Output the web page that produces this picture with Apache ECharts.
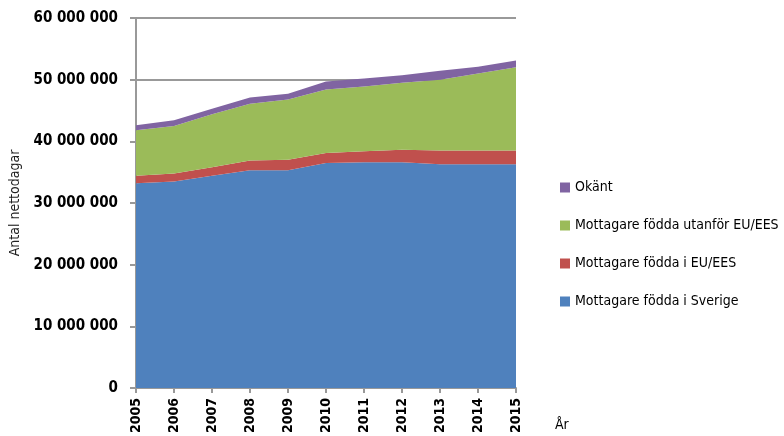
<!DOCTYPE html>
<html>
<head>
<meta charset="utf-8">
<script src="https://cdn.jsdelivr.net/npm/echarts@6/dist/echarts.min.js"></script>
<style>
  html, body { margin: 0; padding: 0; background: #fff; }
  #chart { width: 784px; height: 436px; }
</style>
</head>
<body>
<div id="chart"></div>
<script>
var years = ['2005', '2006', '2007', '2008', '2009', '2010', '2011', '2012', '2013', '2014', '2015'];
// antal nettodagar per grupp
var sverige = [33200000, 33500000, 34400000, 35300000, 35300000, 36500000, 36600000, 36600000, 36300000, 36300000, 36300000];
var euEes = [1200000, 1300000, 1400000, 1600000, 1700000, 1600000, 1800000, 2050000, 2200000, 2200000, 2200000];
var utanfor = [7400000, 7700000, 8600000, 9200000, 9800000, 10300000, 10500000, 10850000, 11500000, 12500000, 13500000];
var okant = [800000, 900000, 900000, 1000000, 900000, 1300000, 1300000, 1200000, 1450000, 1100000, 1100000];

var font = '"DejaVu Sans Condensed", "Liberation Sans Narrow", sans-serif';

var makeSeries = function (name, data, color) {
  return {
    name: name,
    type: 'line',
    stack: 'total',
    data: data,
    symbol: 'none',
    lineStyle: { width: 0 },
    areaStyle: { color: color, opacity: 1 },
    itemStyle: { color: color }
  };
};

var option = {
  animation: false,
  grid: { left: 136, right: 268, top: 18, bottom: 46 },
  legend: {
    orient: 'vertical',
    left: 555,
    top: 174,
    itemGap: 21,
    itemWidth: 10,
    itemHeight: 10,
    icon: 'rect',
    textStyle: { fontFamily: font, fontSize: 14, color: '#000', lineHeight: 17 },
    data: ['Okänt', 'Mottagare födda utanför EU/EES', 'Mottagare födda i EU/EES', 'Mottagare födda i Sverige']
  },
  graphic: [{
    type: 'text',
    left: 555,
    top: 418,
    style: { text: 'År', font: '14px ' + font, fill: '#000' }
  }],
  xAxis: {
    type: 'category',
    boundaryGap: false,
    data: years,
    axisLine: { lineStyle: { color: '#999', width: 2 } },
    axisTick: { show: true, length: 5, lineStyle: { color: '#999', width: 2 } },
    axisLabel: { rotate: 90, fontFamily: font, fontSize: 14, fontWeight: 'bold', color: '#000', margin: 10 }
  },
  yAxis: {
    type: 'value',
    min: 0,
    max: 60000000,
    interval: 10000000,
    name: 'Antal nettodagar',
    nameLocation: 'middle',
    nameGap: 114,
    nameTextStyle: { fontFamily: font, fontSize: 14, color: '#222' },
    axisLine: { show: true, lineStyle: { color: '#999', width: 2 } },
    axisTick: { show: true, length: 6, lineStyle: { color: '#999', width: 2 } },
    splitLine: { lineStyle: { color: '#999', width: 2 } },
    axisLabel: {
      fontFamily: font,
      fontSize: 15,
      fontWeight: 'bold',
      color: '#000',
      margin: 18,
      formatter: function (v) {
        return String(v).replace(/\B(?=(\d{3})+(?!\d))/g, ' ');
      }
    }
  },
  series: [
    makeSeries('Mottagare födda i Sverige', sverige, '#4F81BD'),
    makeSeries('Mottagare födda i EU/EES', euEes, '#C0504D'),
    makeSeries('Mottagare födda utanför EU/EES', utanfor, '#9BBB59'),
    makeSeries('Okänt', okant, '#8064A2')
  ]
};

var chart = echarts.init(document.getElementById('chart'));
chart.setOption(option);
</script>
</body>
</html>
